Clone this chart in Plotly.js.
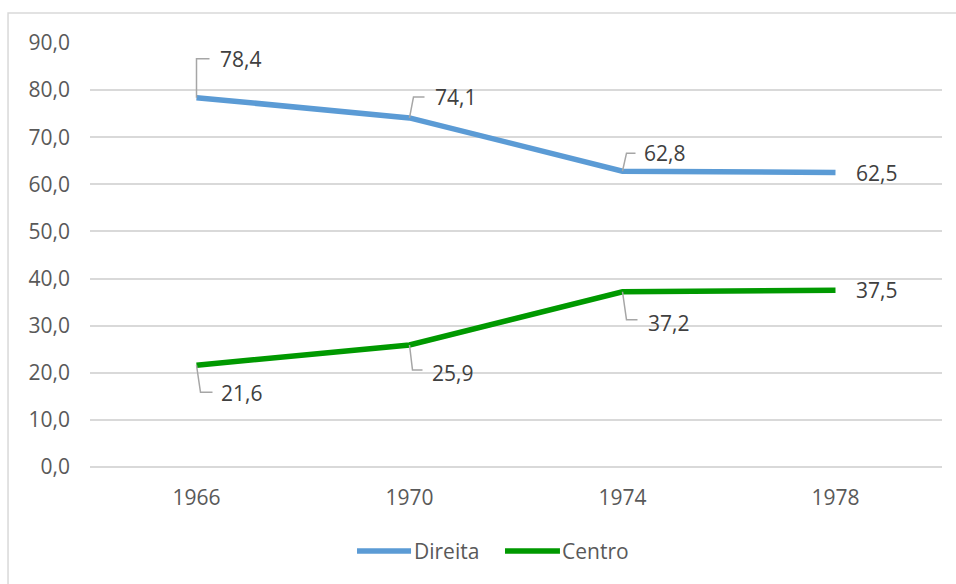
<!DOCTYPE html>
<html>
<head>
<meta charset="utf-8">
<script src="https://cdn.plot.ly/plotly-3.0.1.min.js"></script>
<style>html,body{margin:0;padding:0;background:#fff;}#chart{width:956px;height:584px;}</style>
</head>
<body>
<div id="chart"></div>
<script>
// ---- data ----
const years = ['1966', '1970', '1974', '1978'];
const direita = [78.4, 74.1, 62.8, 62.5];
const centro = [21.6, 25.9, 37.2, 37.5];
const yTicks = [0, 10, 20, 30, 40, 50, 60, 70, 80, 90];
const seriesNames = ['Direita', 'Centro'];

// ---- styling ----
const FONT = 'Open Sans, Noto Sans, sans-serif';
const FS = 21;
const TXT = '#595959';
const BLUE = '#5B9BD5';
const GREEN = '#009900';
const LEAD = '#A6A6A6';

// label placement (pixel offsets from the point; leader: [dx1,dy1,dx2,dy2], text: [xshift,yshift]) – y positive up
const dirLayout = [
  {lead: [0, 39, 13, 39], txt: [21, 39]},
  {lead: [4, 21, 15, 21], txt: [23, 21]},
  {lead: [4, 18, 13, 18], txt: [19, 18]},
  {lead: null, txt: [18, 0]}
];
const cenLayout = [
  {lead: [4, -27, 16, -27], txt: [22, -28]},
  {lead: [3, -25, 13, -25], txt: [20, -28]},
  {lead: [4, -28, 15, -28], txt: [23, -31]},
  {lead: null, txt: [18, 0]}
];

const fmt = v => v.toFixed(1).replace('.', ',');

const traces = [
  {x: years, y: direita, name: seriesNames[0], type: 'scatter', mode: 'lines',
   line: {color: BLUE, width: 5.5}, showlegend: false, hoverinfo: 'skip'},
  {x: years, y: centro, name: seriesNames[1], type: 'scatter', mode: 'lines',
   line: {color: GREEN, width: 5.5}, showlegend: false, hoverinfo: 'skip'}
];

const annotations = [];
const shapes = [];
function addLabels(vals, lay) {
  vals.forEach((v, i) => {
    const L = lay[i];
    annotations.push({
      xref: 'x', yref: 'y', x: i, y: v, text: fmt(v), showarrow: false,
      xanchor: 'left', yanchor: 'middle', xshift: L.txt[0], yshift: L.txt[1],
      font: {family: FONT, size: FS, color: '#404040'}
    });
    if (L.lead) {
      const [a, b, c, d] = L.lead;
      shapes.push({
        type: 'path', xref: 'x', yref: 'y', xsizemode: 'pixel', ysizemode: 'pixel',
        xanchor: i, yanchor: v,
        path: `M0,0 L${a},${b} L${c},${d}`,
        line: {color: LEAD, width: 1.5}
      });
    }
  });
}
addLabels(direita, dirLayout);
addLabels(centro, cenLayout);

// outer chart border
shapes.push({type: 'rect', xref: 'paper', yref: 'paper', x0: -0.0962, x1: 1.02, y0: -0.285, y1: 1.0708,
  line: {color: '#D9D9D9', width: 1.5}, fillcolor: 'rgba(0,0,0,0)', layer: 'below'});

// manual legend
const ly = -0.198;
shapes.push({type: 'line', xref: 'paper', yref: 'paper', x0: 0.3134, x1: 0.3768, y0: ly, y1: ly,
  line: {color: BLUE, width: 5.5}});
shapes.push({type: 'line', xref: 'paper', yref: 'paper', x0: 0.4871, x1: 0.5516, y0: ly, y1: ly,
  line: {color: GREEN, width: 5.5}});
annotations.push({xref: 'paper', yref: 'paper', x: 0.378, y: ly, text: seriesNames[0], showarrow: false,
  xanchor: 'left', yanchor: 'middle', font: {family: FONT, size: FS, color: TXT}});
annotations.push({xref: 'paper', yref: 'paper', x: 0.552, y: ly, text: seriesNames[1], showarrow: false,
  xanchor: 'left', yanchor: 'middle', font: {family: FONT, size: FS, color: TXT}});

const layout = {
  width: 956, height: 584,
  margin: {l: 90, r: 14, t: 43, b: 117, pad: 0},
  paper_bgcolor: '#fff', plot_bgcolor: '#fff',
  separators: ',.',
  showlegend: false,
  font: {family: FONT, size: FS, color: TXT},
  xaxis: {
    type: 'category', range: [-0.5, 3.5], showgrid: false, zeroline: false, showline: false,
    ticks: '', ticklabelstandoff: 16, tickfont: {family: FONT, size: FS, color: TXT}, fixedrange: true
  },
  yaxis: {
    range: [0, 90], tickvals: yTicks, tickformat: '.1f', showgrid: true, gridcolor: '#D9D9D9', gridwidth: 2,
    zeroline: true, zerolinecolor: '#D9D9D9', zerolinewidth: 2, showline: false, ticks: '', ticklabelstandoff: 19,
    tickfont: {family: FONT, size: FS, color: TXT}, fixedrange: true
  },
  shapes: shapes,
  annotations: annotations
};

Plotly.newPlot('chart', traces, layout, {staticPlot: true, displayModeBar: false});
</script>
</body>
</html>
